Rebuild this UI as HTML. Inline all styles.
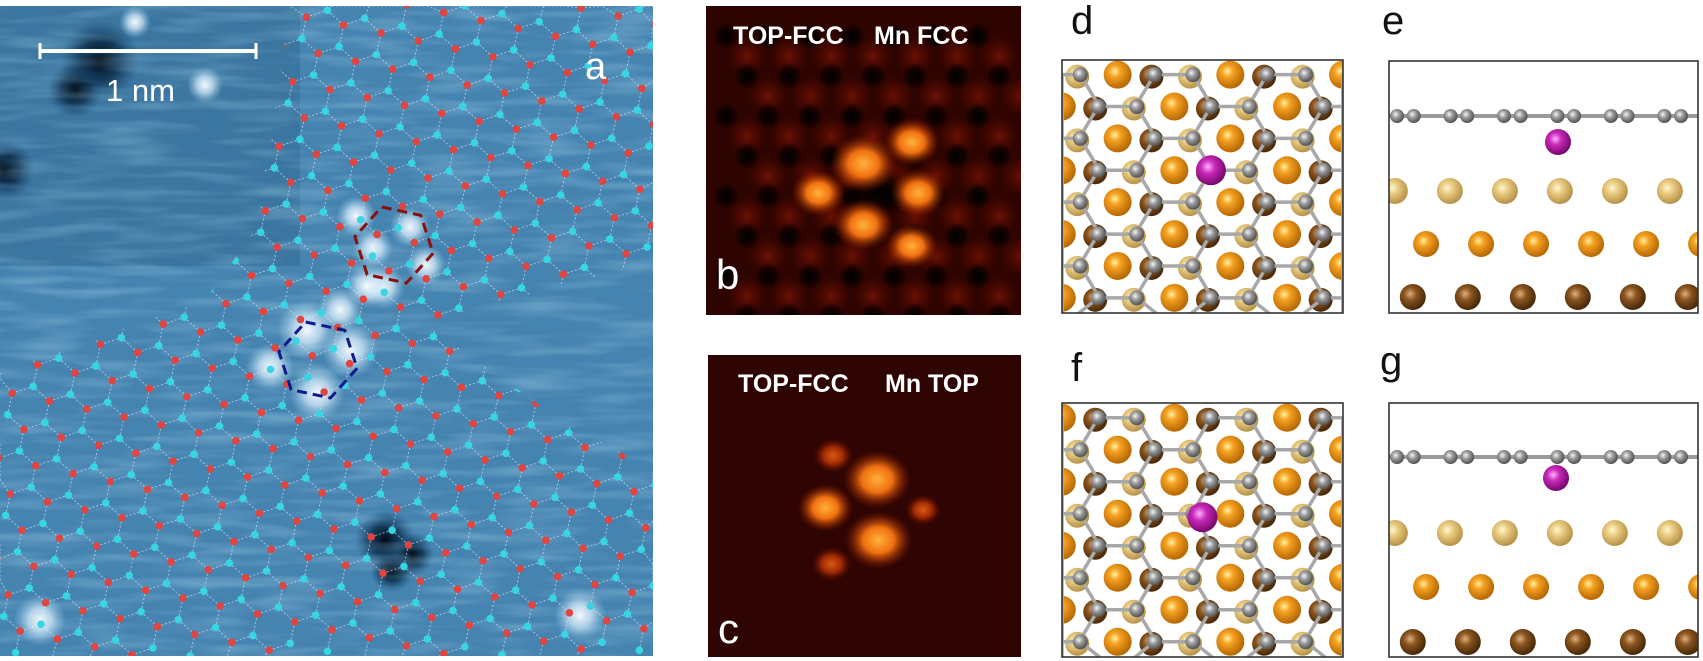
<!DOCTYPE html>
<html><head><meta charset="utf-8">
<style>
html,body{margin:0;padding:0;background:#fff;overflow:hidden;width:1703px;height:661px;}
svg{display:block;overflow:hidden;}
text{font-family:"Liberation Sans",sans-serif;}
</style></head>
<body>
<svg id="fig" width="1703" height="661" viewBox="0 0 1703 661" xmlns="http://www.w3.org/2000/svg">
<defs>
  <radialGradient id="gOr" cx="40%" cy="38%" r="60%"><stop offset="0" stop-color="#fff0a0"/><stop offset="0.35" stop-color="#f4a020"/><stop offset="1" stop-color="#b86a05"/></radialGradient>
  <radialGradient id="gTan" cx="40%" cy="38%" r="60%"><stop offset="0" stop-color="#fff8d0"/><stop offset="0.4" stop-color="#e8ca80"/><stop offset="1" stop-color="#b8954a"/></radialGradient>
  <radialGradient id="gBr" cx="40%" cy="38%" r="60%"><stop offset="0" stop-color="#e0b080"/><stop offset="0.4" stop-color="#8a5520"/><stop offset="1" stop-color="#4a2a08"/></radialGradient>
  <radialGradient id="gC" cx="40%" cy="38%" r="60%"><stop offset="0" stop-color="#f4f4f4"/><stop offset="0.45" stop-color="#999"/><stop offset="1" stop-color="#555"/></radialGradient>
  <radialGradient id="gMn" cx="40%" cy="38%" r="60%"><stop offset="0" stop-color="#ffb0ff"/><stop offset="0.4" stop-color="#c828b8"/><stop offset="1" stop-color="#7a0a70"/></radialGradient>
  <radialGradient id="gBlob" cx="50%" cy="50%" r="50%"><stop offset="0" stop-color="#ffb23a"/><stop offset="0.45" stop-color="#f07010"/><stop offset="1" stop-color="#8a1a00" stop-opacity="0"/></radialGradient>
  <radialGradient id="gBlobDim" cx="50%" cy="50%" r="50%"><stop offset="0" stop-color="#d85a10"/><stop offset="0.5" stop-color="#a02a05"/><stop offset="1" stop-color="#5a0a00" stop-opacity="0"/></radialGradient>
  <radialGradient id="gRed" cx="50%" cy="50%" r="50%"><stop offset="0" stop-color="#7a1404" stop-opacity="0.8"/><stop offset="1" stop-color="#5a0a00" stop-opacity="0"/></radialGradient>
  <radialGradient id="gWhite" cx="50%" cy="50%" r="50%"><stop offset="0" stop-color="#ffffff" stop-opacity="0.95"/><stop offset="0.45" stop-color="#e0f2ff" stop-opacity="0.7"/><stop offset="1" stop-color="#9fd0ea" stop-opacity="0"/></radialGradient>
  <radialGradient id="gDark" cx="50%" cy="50%" r="50%"><stop offset="0" stop-color="#000a14"/><stop offset="0.5" stop-color="#0a2a48" stop-opacity="0.8"/><stop offset="1" stop-color="#1a4a70" stop-opacity="0"/></radialGradient>
  <radialGradient id="gHole" cx="50%" cy="50%" r="50%"><stop offset="0" stop-color="#000"/><stop offset="0.6" stop-color="#000" stop-opacity="0.6"/><stop offset="1" stop-color="#000" stop-opacity="0"/></radialGradient>
  <filter id="stmTex" x="0" y="0" width="100%" height="100%">
    <feTurbulence type="fractalNoise" baseFrequency="0.012 0.09" numOctaves="2" seed="4" result="n"/>
    <feColorMatrix in="n" type="matrix" values="0 0 0 0 0.5  0 0 0 0 0.8  0 0 0 0 0.92  0 0 0 1.3 -0.55"/>
  </filter>
  <clipPath id="clipA"><rect x="0" y="6" width="653" height="650"/></clipPath>
  <clipPath id="clipB"><rect x="706" y="6" width="315" height="309"/></clipPath>
  <clipPath id="clipC"><rect x="708" y="355" width="313" height="302"/></clipPath>
  <clipPath id="clipD"><rect x="1062" y="60" width="281" height="253"/></clipPath>
  <clipPath id="clipF"><rect x="1062" y="403" width="281" height="254"/></clipPath>
  <clipPath id="clipE"><rect x="1389" y="61" width="309" height="252"/></clipPath>
  <clipPath id="clipG"><rect x="1389" y="403" width="309" height="254"/></clipPath>
  <mask id="latMask">
    <rect x="0" y="0" width="653" height="661" fill="#fff"/>
    <polygon points="0,0 290,0 275,110 255,230 205,300 0,372" fill="#000"/>
    <polygon points="425,322 653,262 653,470 560,420" fill="#000"/>
  </mask>
</defs>

<!-- Panel a -->
<g id="panelA" clip-path="url(#clipA)">
  <rect x="0" y="6" width="653" height="650" fill="#4583b0"/>
  <g id="aBlobs"></g>
  <rect x="0" y="6" width="653" height="650" filter="url(#stmTex)" opacity="0.5"/>
  <g id="aLattice" mask="url(#latMask)"></g>
  <polygon id="hexRed" fill="none" stroke="#8a1010" stroke-width="3" stroke-dasharray="10,6"/>
  <polygon id="hexBlue" fill="none" stroke="#101a8a" stroke-width="3" stroke-dasharray="10,6"/>
  <line x1="40" y1="51" x2="256" y2="51" stroke="#fff" stroke-width="4"/>
  <line x1="40" y1="43" x2="40" y2="59" stroke="#fff" stroke-width="3"/>
  <line x1="256" y1="43" x2="256" y2="59" stroke="#fff" stroke-width="3"/>
  <text x="106" y="101" font-size="31" fill="#fff">1 nm</text>
  <text x="585" y="79" font-size="38" fill="#fff">a</text>
</g>

<!-- Panel b -->
<g id="panelB" clip-path="url(#clipB)">
  <rect x="706" y="6" width="315" height="309" fill="#2e0400"/>
  <g id="bGlow"></g>
  <g id="bHoles"></g>
  <g id="bBlobs"></g>
  <text x="733" y="44" font-size="25" font-weight="bold" fill="#fff">TOP-FCC</text>
  <text x="874" y="44" font-size="25" font-weight="bold" fill="#fff">Mn FCC</text>
  <text x="716" y="289" font-size="42" fill="#fff">b</text>
</g>

<!-- Panel c -->
<g id="panelC" clip-path="url(#clipC)">
  <rect x="708" y="355" width="313" height="302" fill="#2e0502"/>
  <g id="cBlobs"></g>
  <text x="738" y="392" font-size="25" font-weight="bold" fill="#fff">TOP-FCC</text>
  <text x="885" y="392" font-size="25" font-weight="bold" fill="#fff">Mn TOP</text>
  <text x="718" y="643" font-size="42" fill="#fff">c</text>
</g>

<!-- Top views -->
<g id="panelD" clip-path="url(#clipD)"></g>
<rect x="1062" y="60" width="281" height="253" fill="none" stroke="#333" stroke-width="1.6"/>
<g id="panelF" clip-path="url(#clipF)"></g>
<rect x="1062" y="403" width="281" height="254" fill="none" stroke="#333" stroke-width="1.6"/>
<g id="panelE" clip-path="url(#clipE)"></g>
<rect x="1389" y="61" width="309" height="252" fill="none" stroke="#333" stroke-width="1.6"/>
<g id="panelG" clip-path="url(#clipG)"></g>
<rect x="1389" y="403" width="309" height="254" fill="none" stroke="#333" stroke-width="1.6"/>

<text x="1071" y="34" font-size="40" fill="#111">d</text>
<text x="1382" y="34" font-size="40" fill="#111">e</text>
<text x="1071" y="381" font-size="40" fill="#111">f</text>
<text x="1380" y="374" font-size="40" fill="#111">g</text>
</svg>

<script>
// ---- data arrays ----
const bBlobX = [0.50, 0.653, 0.357, 0.674, 0.50, 0.653];
const bBlobY = [0.51, 0.441, 0.605, 0.605, 0.708, 0.777];
const bBlobR = [34, 28, 27, 28, 30, 26];
const cBlobX = [0.40, 0.54, 0.375, 0.545, 0.687, 0.395];
const cBlobY = [0.333, 0.412, 0.506, 0.613, 0.513, 0.692];
const cBlobR = [20, 34, 28, 34, 18, 20];
const cBlobBright = [0, 1, 1, 1, 0, 0];
const aWhiteX = [307, 350, 270, 317, 383, 340, 356, 373, 367, 410, 426, 40, 580, 135, 205];
const aWhiteY = [330, 350, 367, 393, 287, 310, 216, 248, 286, 227, 265, 620, 615, 22, 85];
const aWhiteR = [30, 28, 24, 28, 22, 22, 20, 20, 22, 20, 20, 26, 26, 16, 18];
const aDarkX = [385, 412, 392, 100, 75, 5];
const aDarkY = [540, 555, 570, 60, 90, 170];
const aDarkR = [30, 22, 22, 40, 28, 30];
const sideLayers = ["light", "orange", "brown"];

const NS = "http://www.w3.org/2000/svg";
function mk(tag, attrs, parent) {
  const e = document.createElementNS(NS, tag);
  for (const k in attrs) e.setAttribute(k, attrs[k]);
  parent.appendChild(e);
  return e;
}
function cl(v, lo, hi) { return Math.max(lo, Math.min(hi, v)); }

// ---- Panel a blobs ----
const aBl = document.getElementById('aBlobs');
mk('rect', {x:0, y:6, width:300, height:260, fill:'#2f6690', opacity:0.45}, aBl);
for (let i = 0; i < aDarkX.length; i++) {
  const c = mk('circle', {cx:aDarkX[i], cy:aDarkY[i], r:aDarkR[i], fill:'url(#gDark)'}, aBl);
  
  
}
for (let i = 0; i < aWhiteX.length; i++) {
  const c = mk('circle', {cx:aWhiteX[i], cy:aWhiteY[i], r:aWhiteR[i], fill:'url(#gWhite)'}, aBl);
  
  
}

// ---- Panel a lattice ----
const lat = document.getElementById('aLattice');
const bnd = 22, th = 12 * Math.PI / 180;
const ct = Math.cos(th), st = Math.sin(th);
function rot(x, y) { return [x*ct - y*st + 20, x*st + y*ct - 10]; }
const s3 = Math.sqrt(3);
const bondsG = mk('g', {stroke:'#e8f0f8', 'stroke-width':1, 'stroke-dasharray':'2,2', opacity:0.6}, lat);
const dotsG = mk('g', {}, lat);
function inA(p) { return p[0] > -5 && p[0] < 656 && p[1] > 4 && p[1] < 656; }
for (let i = -25; i < 40; i++) {
  for (let j = -5; j < 30; j++) {
    const x0 = i*bnd*s3 + j*bnd*s3/2, y0 = j*bnd*1.5;
    const A = rot(x0, y0), B = rot(x0, y0 + bnd);
    if (!inA(A) && !inA(B)) continue;
    const nb = [rot(x0 + bnd*s3/2, y0 - bnd/2), rot(x0 - bnd*s3/2, y0 - bnd/2)];
    const lines = [[A, B], [A, nb[0]], [A, nb[1]]];
    for (const [p, q] of lines) {
      mk('line', {x1:cl(p[0],0,653), y1:cl(p[1],6,656), x2:cl(q[0],0,653), y2:cl(q[1],6,656)}, bondsG);
    }
    if (inA(A)) {
      const d1 = mk('circle', {cx:A[0], cy:A[1], r:3.8, fill:'#e2453f'}, dotsG);
      
      
    }
    if (inA(B)) {
      const d2 = mk('circle', {cx:B[0], cy:B[1], r:3.8, fill:'#36d6e4'}, dotsG);
      
      
    }
  }
}
function hexPts(cx, cy, r, a0) {
  const p = [];
  for (let k = 0; k < 6; k++) { const a = a0 + k*Math.PI/3; p.push((cx + r*Math.cos(a)).toFixed(1) + ',' + (cy + r*Math.sin(a)).toFixed(1)); }
  return p.join(' ');
}
document.getElementById('hexRed').setAttribute('points', hexPts(394, 245, 40, th));
document.getElementById('hexBlue').setAttribute('points', hexPts(318, 360, 40, th));

// ---- Panel b ----
const bG = document.getElementById('bGlow');
for (let r = 0; r < 7; r++) {
  for (let c = 0; c < 7; c++) {
    const x = 706 + 41 + c*42 + (r % 2)*21, y = 6 + 50 + r*40;
    mk('circle', {cx:x, cy:y, r:20, fill:'url(#gRed)'}, bG);
  }
}
const bH = document.getElementById('bHoles');
for (let r = 0; r < 8; r++) {
  for (let c = 0; c < 8; c++) {
    const x = 706 + 20 + c*42 + (r % 2)*21, y = 6 + 30 + r*40;
    if (x > 1015) continue;
    const h = mk('circle', {cx:x, cy:y, r:13, fill:'url(#gHole)'}, bH);
    
    
  }
}
mk('circle', {cx:706 + 0.545*315, cy:6 + 0.6*309, r:30, fill:'url(#gHole)'}, bH);
const bB = document.getElementById('bBlobs');
for (let i = 0; i < bBlobX.length; i++) {
  const e = mk('ellipse', {cx:706 + bBlobX[i]*315, cy:6 + bBlobY[i]*309, rx:bBlobR[i], ry:bBlobR[i]*0.85, fill:'url(#gBlob)'}, bB);
  
  
}
// ---- Panel c ----
const cB = document.getElementById('cBlobs');
for (let i = 0; i < cBlobX.length; i++) {
  const e = mk('ellipse', {cx:708 + cBlobX[i]*313, cy:355 + cBlobY[i]*302, rx:cBlobR[i], ry:cBlobR[i]*0.85, fill: cBlobBright[i] ? 'url(#gBlob)' : 'url(#gBlobDim)'}, cB);
  
  
}

// ---- Top views ----
function topView(gid, L, T, W, H, shift, mnFx, mnFy) {
  const g = document.getElementById(gid);
  const sub = mk('g', {}, g), org = mk('g', {}, g), bonds = mk('g', {stroke:'#a8a8a8', 'stroke-width':3.5, 'stroke-linecap':'round'}, g), carb = mk('g', {}, g);
  const b = 0.137*W, rowH = 0.126*H;
  const xL = L, xR = L + W, yT = T, yB = T + H;
  for (let k = -1; k < 10; k++) {
    const y = T + (0.058 + 0.126*k)*H;
    if (y < T - 10 || y > T + H + 10) continue;
    const isA = ((k + shift) % 2 + 2) % 2 === 0;
    const oF = isA ? 0.198 : 0.40;
    const cF = isA ? 0.329 : 0.129;
    for (let m = -1; m < 4; m++) {
      const ox = L + (oF + 0.401*m)*W;
      if (ox > L - 10 && ox < L + W + 10) {
        const o = mk('circle', {cx:ox, cy:y, r:14, fill:'url(#gOr)'}, org);
        
        
      }
      const x1 = L + (cF + 0.401*m)*W, x2 = x1 + b;
      if (x1 > L - 10 && x1 < L + W + 10) mk('circle', {cx:x1 - 3, cy:y + 2, r:12, fill:'url(#gBr)'}, sub);
      if (x2 > L - 10 && x2 < L + W + 10) mk('circle', {cx:x2 - 3, cy:y + 2, r:12, fill:'url(#gTan)'}, sub);
      const segs = [[x1, y, x2, y], [x1, y, x1 - b/2, y + rowH], [x2, y, x2 + b/2, y + rowH]];
      for (const s of segs) {
        mk('line', {x1:cl(s[0],xL,xR), y1:cl(s[1],yT,yB), x2:cl(s[2],xL,xR), y2:cl(s[3],yT,yB)}, bonds);
      }
      for (const cx of [x1, x2]) {
        if (cx < L - 8 || cx > L + W + 8) continue;
        const c = mk('circle', {cx:cx, cy:y, r:7.5, fill:'url(#gC)'}, carb);
        
        
      }
    }
  }
  const mn = mk('circle', {cx:L + mnFx*W, cy:T + mnFy*H, r:15, fill:'url(#gMn)'}, g);
  
  
}
topView('panelD', 1062, 60, 281, 253, 0, 0.53, 0.436);
topView('panelF', 1062, 403, 281, 254, 1, 0.50, 0.45);

// ---- Side views ----
function sideView(gid, L, W, yC, yMn, xMn, yRows) {
  const g = document.getElementById(gid);
  const fills = {light:'url(#gTan)', orange:'url(#gOr)', brown:'url(#gBr)'};
  const offs = {light:0.019, brown:0.077, orange:0.12};
  sideLayers.forEach((layer, li) => {
    for (let k = 0; k < 6; k++) {
      const x = L + (offs[layer] + 0.178*k)*W;
      if (x > L + W + 8) continue;
      const s = mk('circle', {cx:x, cy:yRows[li], r:13, fill:fills[layer]}, g);
      
      
    }
  });
  mk('line', {x1:L, y1:yC, x2:L + W, y2:yC, stroke:'#9a9a9a', 'stroke-width':4}, g);
  for (let k = 0; k < 6; k++) {
    for (const d of [0, 0.054]) {
      const c = mk('circle', {cx:L + (0.026 + d + 0.173*k)*W, cy:yC, r:7, fill:'url(#gC)'}, g);
      
      
    }
  }
  const mn = mk('circle', {cx:xMn, cy:yMn, r:13, fill:'url(#gMn)'}, g);
  
  
}
sideView('panelE', 1389, 309, 116, 142, 1558, [191, 244, 297]);
sideView('panelG', 1389, 309, 457, 478, 1556, [533, 587, 642]);
</script>
</body></html>
